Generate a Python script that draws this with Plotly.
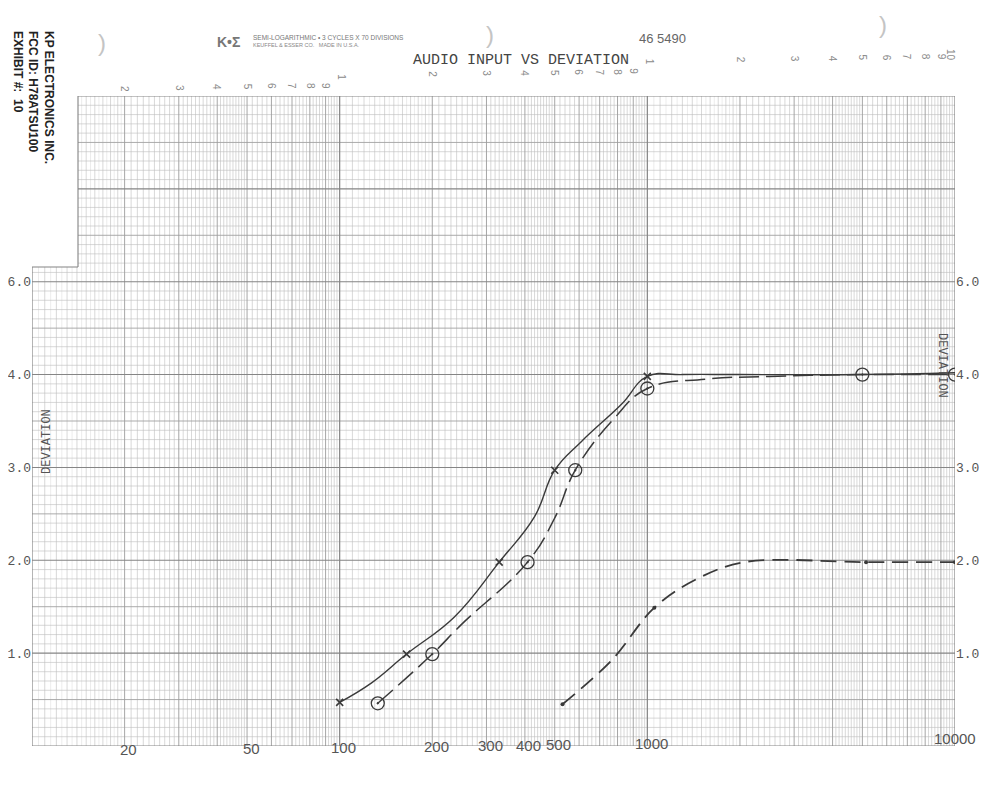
import math
import plotly.graph_objects as go

# ---------------- data ----------------
# solid curve (x / arrow marks)
solid_x = [100, 127, 165, 236, 330, 430, 500, 611, 824, 1000, 1300, 2000, 5000, 10000]
solid_y = [0.47, 0.68, 0.99, 1.39, 1.98, 2.47, 2.97, 3.28, 3.68, 3.98, 4.00, 4.00, 4.00, 4.02]
solid_mark_x = [100, 165, 330, 500, 1000]
solid_mark_y = [0.47, 0.99, 1.98, 2.97, 3.98]

# long-dash curve (circle marks)
circle_x = [133, 200, 249, 408, 499, 583, 781, 1000, 1540, 2500, 5000, 10000]
circle_y = [0.46, 0.99, 1.31, 1.98, 2.45, 2.97, 3.53, 3.85, 3.95, 3.98, 4.00, 4.00]
circle_mark_x = [133, 200, 408, 583, 1000, 5000, 10000]
circle_mark_y = [0.46, 0.99, 1.98, 2.97, 3.85, 4.00, 4.00]

# lower dashed curve
lower_x = [530, 764, 1054, 1452, 2065, 5140, 10000]
lower_y = [0.45, 0.92, 1.49, 1.80, 1.98, 1.98, 1.98]
lower_mark_x = [530, 1054, 5140, 10000]
lower_mark_y = [0.45, 1.49, 1.98, 1.98]

# tick labels
y_tickvals = [1, 2, 3, 4, 5]
y_ticktext = ["1.0", "2.0", "3.0", "4.0", "6.0"]
bottom_vals = [20, 50, 100, 200, 300, 400, 500, 1000, 10000]
bottom_text = ["20", "50", "100", "200", "300", "400", "500", "1000", "10000"]
cycle_digits = ["2", "3", "4", "5", "6", "7", "8", "9"]
cycle_starts = [10, 100, 1000]

# ---------------- layout geometry (page pixels) ----------------
BODY = 8                      # default body margin of the html page
PAGE_W, PAGE_H = 1000, 794
PLOT_L, PLOT_R, PLOT_T, PLOT_B = 32, 955, 96, 746
PW, PH = PLOT_R - PLOT_L, PLOT_B - PLOT_T
FIG_W, FIG_H = PAGE_W - 2 * BODY, PAGE_H - 2 * BODY
X0, X1 = 10, 10000
Y0, Y1 = 0, 7

INK = "#3a3a3a"


def pxx(px):
    return (px - PLOT_L) / PW


def pyy(py):
    return (PLOT_B - py) / PH


def px_of(v):
    return PLOT_L + (math.log10(v) - math.log10(X0)) / (math.log10(X1) - math.log10(X0)) * PW


def vlines(xs):
    X, Y = [], []
    for x in xs:
        X += [x, x, None]
        Y += [Y0, Y1, None]
    return X, Y


def hlines(ys):
    X, Y = [], []
    for y in ys:
        X += [X0, X1, None]
        Y += [y, y, None]
    return X, Y


# graph-paper rulings (3 log cycles x 70 divisions)
v_major, v_mid, v_minor, v_fine = [], [], [], []
for d in cycle_starts:
    v_major.append(d)
    for m in range(2, 10):
        v_mid.append(d * m)
    for k in range(11, 20):
        v_minor.append(d * k / 10)
        v_fine.append(d * (k - 0.5) / 10)
    v_fine.append(d * 1.95)
    for k in range(21, 50):
        if k % 10:
            v_minor.append(d * k / 10)
    for k in range(52, 100, 2):
        if k % 10:
            v_minor.append(d * k / 10)
v_major.append(10000)

h_major = [i for i in range(0, 8)]
h_mid = [i + 0.5 for i in range(0, 7)]
h_minor = [i / 10 for i in range(0, 71) if i % 5]

fig = go.Figure()


def add_rule(xy, color, width):
    fig.add_trace(go.Scatter(x=xy[0], y=xy[1], mode="lines",
                             line=dict(color=color, width=width),
                             hoverinfo="skip", showlegend=False))


add_rule(vlines(v_fine), "#d8d8d8", 0.5)
add_rule(vlines(v_minor), "#bdbdbd", 0.6)
add_rule(hlines(h_minor), "#bdbdbd", 0.6)
add_rule(hlines(h_mid), "#a2a2a2", 0.9)
add_rule(vlines(v_mid), "#9c9c9c", 0.9)
add_rule(hlines(h_major), "#858585", 1.1)
add_rule(vlines(v_major), "#838383", 1.2)

# ---------------- curves ----------------
fig.add_trace(go.Scatter(x=solid_x, y=solid_y, mode="lines",
                         line=dict(color=INK, width=1.4, shape="spline", smoothing=1.2),
                         hoverinfo="skip", showlegend=False))
fig.add_trace(go.Scatter(x=solid_mark_x, y=solid_mark_y, mode="markers",
                         marker=dict(symbol="x-thin", size=7, line=dict(color=INK, width=1.6)),
                         showlegend=False))

fig.add_trace(go.Scatter(x=circle_x, y=circle_y, mode="lines",
                         line=dict(color=INK, width=1.5, dash="20px,7px", shape="spline", smoothing=1.2),
                         hoverinfo="skip", showlegend=False))
fig.add_trace(go.Scatter(x=circle_mark_x, y=circle_mark_y, mode="markers",
                         marker=dict(symbol="circle-open-dot", size=13, color=INK,
                                     line=dict(color=INK, width=1.3)),
                         showlegend=False))

fig.add_trace(go.Scatter(x=lower_x, y=lower_y, mode="lines",
                         line=dict(color=INK, width=1.8, dash="16px,8px", shape="spline", smoothing=1.0),
                         hoverinfo="skip", showlegend=False))
fig.add_trace(go.Scatter(x=lower_mark_x, y=lower_mark_y, mode="markers",
                         marker=dict(symbol="circle", size=4, color=INK),
                         showlegend=False))

# dummy trace so the right-hand axis is drawn
fig.add_trace(go.Scatter(x=[None], y=[None], yaxis="y2", showlegend=False, hoverinfo="skip"))

# ---------------- annotations ----------------
ann = []
mono = "Liberation Mono, Courier New, monospace"
narrow = "Liberation Sans Narrow, Arial Narrow, Liberation Sans, sans-serif"
sans = "Liberation Sans, Arial, sans-serif"


def text_at(px, py, text, size, color, family=sans, angle=0, **kw):
    d = dict(x=pxx(px), y=pyy(py), xref="paper", yref="paper", text=text,
             showarrow=False, textangle=angle, xanchor="center", yanchor="middle",
             font=dict(family=family, size=size, color=color))
    d.update(kw)
    ann.append(d)


# printed cycle numbers along the top of the paper
cycle_rows = [90, 76, 61]
for ci, d in enumerate(cycle_starts):
    start_px = px_of(d)
    if ci > 0:
        text_at(start_px + 2, cycle_rows[ci] + 1, "1", 10, "#8a8a8a", angle=90)
    for j, lab in enumerate(cycle_digits):
        px = px_of(d * (j + 2))
        text_at(px, cycle_rows[ci] - 0.015 * (px - start_px), lab, 10, "#8a8a8a", angle=90)
text_at(px_of(10000) - 4, 55, "10", 10, "#8a8a8a", angle=90)

# handwritten frequency labels along the bottom
for v, t in zip(bottom_vals, bottom_text):
    px = px_of(v)
    if v == 10000:
        text_at(px, 738, t, 15, "#555", family=narrow)
    else:
        text_at(px + 4, 751 - 0.012 * (px - 32), t, 15, "#555", family=narrow)

# titles and paper imprint
text_at(521, 61, "AUDIO INPUT VS DEVIATION", 15, "#444", family=mono)
text_at(662, 38, "46 5490", 13, "#666")
text_at(228, 42, "<b>K•Σ</b>", 14, "#777")
text_at(251, 37, "SEMI-LOGARITHMIC • 3 CYCLES X 70 DIVISIONS", 6.5, "#777", xanchor="left")
text_at(251, 45, "KEUFFEL & ESSER CO.   MADE IN U.S.A.", 5.5, "#888", xanchor="left")
for (hx, hy) in [(102, 42), (490, 35), (883, 25)]:
    text_at(hx, hy, ")", 24, "#c4c4c4")

# exhibit stamp (rotated)
text_at(33, 97, "<b>KP ELECTRONICS INC.<br>FCC ID: H78ATSU100<br>EXHIBIT #:  10</b>",
        12, "#222", family=narrow, angle=90, align="left")

# axis captions
text_at(47, 442, "DEVIATION", 12, "#555", family=mono, angle=-90)
text_at(942, 365, "DEVIATION", 12, "#555", family=mono, angle=90)

# ---------------- shapes (cut edge of the upper paper sheet) ----------------
cut_x = pxx(78)
cut_y = Y0 + pyy(267) * (Y1 - Y0)
shapes = [
    dict(type="rect", xref="paper", yref="y", x0=-0.05, x1=cut_x, y0=cut_y, y1=Y1 + 0.1,
         fillcolor="white", line=dict(width=0), layer="above"),
    dict(type="line", xref="paper", yref="y", x0=cut_x, x1=cut_x, y0=cut_y, y1=Y1,
         line=dict(color="#838383", width=1.1), layer="above"),
    dict(type="line", xref="paper", yref="y", x0=0, x1=cut_x, y0=cut_y, y1=cut_y,
         line=dict(color="#838383", width=1.1), layer="above"),
]

fig.update_layout(
    width=FIG_W, height=FIG_H,
    margin=dict(l=PLOT_L - BODY, r=FIG_W - (PLOT_R - BODY), t=PLOT_T - BODY, b=FIG_H - (PLOT_B - BODY),
                autoexpand=False),
    paper_bgcolor="white", plot_bgcolor="white",
    showlegend=False,
    xaxis=dict(type="log", range=[math.log10(X0), math.log10(X1)], showgrid=False,
               zeroline=False, showticklabels=False, ticks="", showline=False, automargin=False),
    yaxis=dict(range=[Y0, Y1], showgrid=False, zeroline=False, showline=False, automargin=False,
               tickvals=y_tickvals, ticktext=y_ticktext, ticks="",
               tickfont=dict(family=mono, size=13, color="#555")),
    yaxis2=dict(range=[Y0, Y1], overlaying="y", side="right", showgrid=False, automargin=False,
                zeroline=False, showline=False, tickvals=y_tickvals, ticktext=y_ticktext,
                ticks="", tickfont=dict(family=mono, size=13, color="#555")),
    annotations=ann,
    shapes=shapes,
)

fig.write_html("out.html")
